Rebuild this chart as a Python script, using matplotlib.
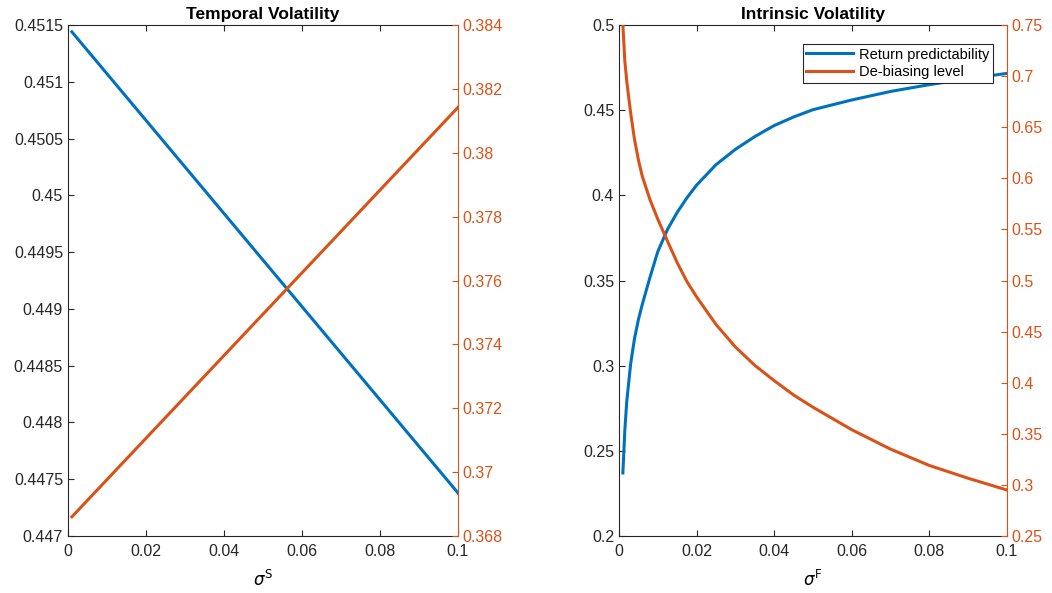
import matplotlib
matplotlib.use("Agg")
import matplotlib.pyplot as plt
from matplotlib.ticker import FuncFormatter, MultipleLocator

plt.rcParams['font.family'] = ['Liberation Sans', 'DejaVu Sans']
plt.rcParams['mathtext.fontset'] = 'dejavusans'

BLUE = '#0072BD'
ORANGE = '#D95319'
DARK = '#262626'

# Temporal volatility (sigma^S) - straight lines
temporal_x = [0.001, 0.1]
temporal_pred = [0.45144, 0.44738]
temporal_debias = [0.3686, 0.38142]

# Intrinsic volatility (sigma^F)
intr_x = [0.001, 0.0015, 0.002, 0.003, 0.004, 0.005, 0.006, 0.008, 0.01,
          0.0125, 0.015, 0.0175, 0.02, 0.025, 0.03, 0.035, 0.04, 0.045,
          0.05, 0.06, 0.07, 0.08, 0.09, 0.1]
intr_pred = [0.237, 0.262, 0.279, 0.301, 0.316, 0.327, 0.336, 0.352, 0.367,
             0.380, 0.390, 0.3985, 0.406, 0.418, 0.427, 0.4345, 0.441, 0.446,
             0.4503, 0.456, 0.461, 0.465, 0.4685, 0.4716]
intr_debias = [0.75, 0.715, 0.695, 0.664, 0.638, 0.618, 0.602, 0.579, 0.560,
               0.5385, 0.5175, 0.499, 0.484, 0.457, 0.435, 0.417, 0.402, 0.388,
               0.376, 0.354, 0.335, 0.319, 0.3065, 0.295]

fmt = FuncFormatter(lambda v, p: '{:g}'.format(round(v, 6)))


def style_axes(ax, ax2, title, xlabel):
    ax.set_xlim(0, 0.1)
    ax.xaxis.set_major_locator(MultipleLocator(0.02))
    ax.xaxis.set_major_formatter(fmt)
    ax.yaxis.set_major_formatter(fmt)
    ax2.yaxis.set_major_formatter(fmt)
    for s in ['left', 'bottom', 'top']:
        ax.spines[s].set_color(DARK)
        ax.spines[s].set_linewidth(0.8)
    ax.spines['right'].set_visible(False)
    for s in ['left', 'bottom', 'top']:
        ax2.spines[s].set_visible(False)
    ax2.spines['right'].set_color(ORANGE)
    ax2.spines['right'].set_linewidth(0.8)
    ax.tick_params(axis='x', direction='in', top=True, length=4, width=0.8,
                   colors=DARK, labelsize=11.5, pad=6)
    ax.tick_params(axis='y', direction='in', length=4, width=0.8,
                   colors=DARK, labelsize=11.5)
    ax2.tick_params(axis='y', direction='in', length=4, width=0.8,
                    colors=ORANGE, labelsize=11.5)
    ax.set_title(title, fontsize=12.5, fontweight='bold', pad=4)
    ax.set_xlabel(xlabel, fontsize=12, labelpad=7)


fig = plt.figure(figsize=(10.52, 5.93), dpi=100)

ax1 = fig.add_axes([0.0646, 0.0961, 0.3707, 0.8617])
ax1b = ax1.twinx()
ax1.plot(temporal_x, temporal_pred, color=BLUE, lw=2.2)
ax1b.plot(temporal_x, temporal_debias, color=ORANGE, lw=2.2)
ax1.set_ylim(0.447, 0.4515)
ax1.yaxis.set_major_locator(MultipleLocator(0.0005))
ax1b.set_ylim(0.368, 0.384)
ax1b.yaxis.set_major_locator(MultipleLocator(0.002))
style_axes(ax1, ax1b, 'Temporal Volatility', r'$\sigma^{\mathrm{S}}$')

ax2 = fig.add_axes([0.5884, 0.0961, 0.3688, 0.8617])
ax2b = ax2.twinx()
l1, = ax2.plot(intr_x, intr_pred, color=BLUE, lw=2.2,
               label='Return predictability')
l2, = ax2b.plot(intr_x, intr_debias, color=ORANGE, lw=2.2,
                label='De-biasing level')
ax2.set_ylim(0.2, 0.5)
ax2.yaxis.set_major_locator(MultipleLocator(0.05))
ax2b.set_ylim(0.25, 0.75)
ax2b.yaxis.set_major_locator(MultipleLocator(0.05))
style_axes(ax2, ax2b, 'Intrinsic Volatility', r'$\sigma^{\mathrm{F}}$')

leg = ax2b.legend(handles=[l1, l2], loc='upper right', fontsize=10.5,
                  handlelength=3.2, handletextpad=0.4, borderpad=0.25,
                  labelspacing=0.25, fancybox=False, framealpha=1,
                  edgecolor=DARK, borderaxespad=0,
                  bbox_to_anchor=(0.964, 0.963))
leg.get_frame().set_linewidth(0.8)

fig.savefig('out.png', dpi=100)
